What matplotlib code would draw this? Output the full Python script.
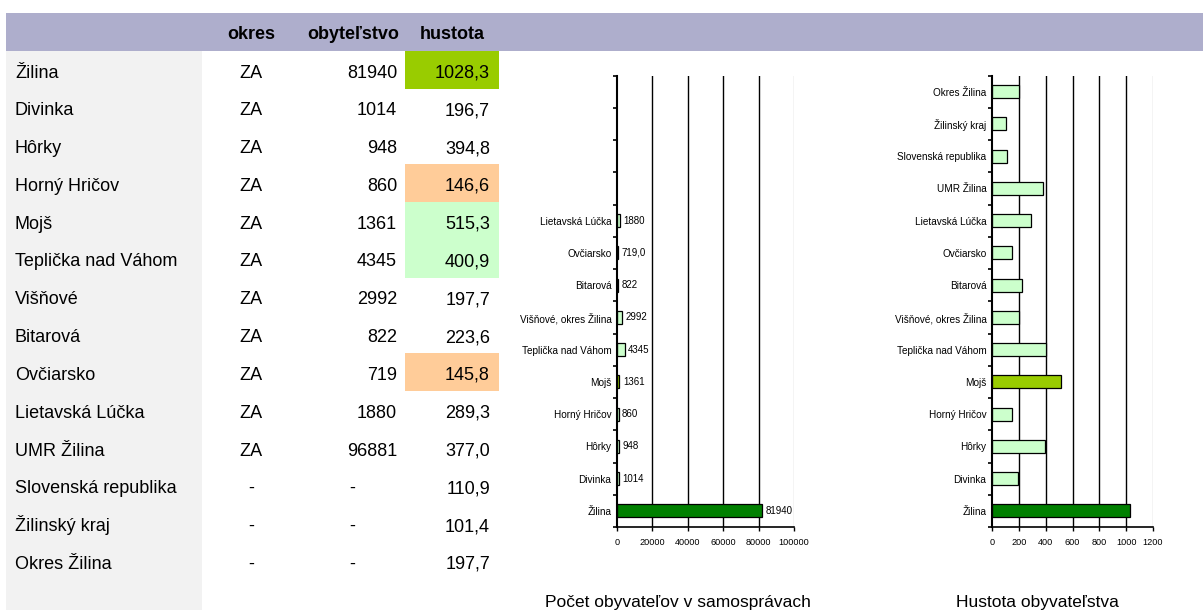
import matplotlib
matplotlib.use("Agg")
import matplotlib.pyplot as plt
from matplotlib.patches import Rectangle
from matplotlib.ticker import FixedLocator

plt.rcParams['font.family'] = ['Liberation Sans', 'DejaVu Sans']

# ---------------- data ----------------
names = ["Žilina", "Divinka", "Hôrky", "Horný Hričov", "Mojš", "Teplička nad Váhom",
         "Višňové", "Bitarová", "Ovčiarsko", "Lietavská Lúčka", "UMR Žilina",
         "Slovenská republika", "Žilinský kraj", "Okres Žilina"]
okres = ["ZA"] * 11 + ["-"] * 3
obyvatelstvo = ["81940", "1014", "948", "860", "1361", "4345", "2992", "822", "719",
                "1880", "96881", "-", "-", "-"]
hustota = [1028.3, 196.7, 394.8, 146.6, 515.3, 400.9, 197.7, 223.6, 145.8, 289.3,
           377.0, 110.9, 101.4, 197.7]
header = ["okres", "obyteľstvo", "hustota"]

# chart 1 (population), bottom to top
pop_cats = ["Žilina", "Divinka", "Hôrky", "Horný Hričov", "Mojš", "Teplička nad Váhom",
            "Višňové, okres Žilina", "Bitarová", "Ovčiarsko", "Lietavská Lúčka",
            "", "", "", ""]
pop_vals = [81940, 1014, 948, 860, 1361, 4345, 2992, 822, 719, 1880]
pop_labels = ["81940", "1014", "948", "860", "1361", "4345", "2992", "822", "719,0", "1880"]

# chart 2 (density), bottom to top
dens_cats = ["Žilina", "Divinka", "Hôrky", "Horný Hričov", "Mojš", "Teplička nad Váhom",
             "Višňové, okres Žilina", "Bitarová", "Ovčiarsko", "Lietavská Lúčka",
             "UMR Žilina", "Slovenská republika", "Žilinský kraj", "Okres Žilina"]
dens_vals = [1028.3, 196.7, 394.8, 146.6, 515.3, 400.9, 197.7, 223.6, 145.8, 289.3,
             377.0, 110.9, 101.4, 197.7]

title1 = "Počet obyvateľov v samosprávach"
title2 = "Hustota obyvateľstva"

# ---------------- styling ----------------
W, H = 1203, 610
DARK = "#008000"
YG = "#99CC00"
LIGHT = "#CCFFCC"
PEACH = "#FFCC99"
HEAD = "#AEAECC"
GRAY = "#F2F2F2"

fig = plt.figure(figsize=(W / 100, H / 100), dpi=100)
fig.patch.set_facecolor("white")


def fx(x):
    return x / W


def fy(y):
    return 1 - y / H


def rect(x0, y0, x1, y1, color):
    fig.add_artist(Rectangle((fx(x0), fy(y1)), fx(x1) - fx(x0), fy(y0) - fy(y1),
                             transform=fig.transFigure, facecolor=color,
                             edgecolor="none", zorder=0))


# backgrounds
rect(6, 13, W, 51, HEAD)
rect(6, 51, 202, H, GRAY)

row0 = 51
rh = 37.8
cell_colors = {0: YG, 3: PEACH, 4: LIGHT, 5: LIGHT, 8: PEACH}
for i, c in cell_colors.items():
    rect(405, row0 + rh * i, 499, row0 + rh * (i + 1), c)

FS = 13
# header
hb = fy(39)
fig.text(fx(251), hb, header[0], ha="center", va="baseline", fontsize=FS, fontweight="bold")
fig.text(fx(353), hb, header[1], ha="center", va="baseline", fontsize=FS, fontweight="bold")
fig.text(fx(452), hb, header[2], ha="center", va="baseline", fontsize=FS, fontweight="bold")

for i in range(len(names)):
    yb = fy(77.5 + rh * i)
    fig.text(fx(15), yb, names[i], ha="left", va="baseline", fontsize=FS)
    fig.text(fx(251), yb, okres[i], ha="center", va="baseline", fontsize=FS)
    if obyvatelstvo[i] == "-":
        fig.text(fx(352), yb, "-", ha="center", va="baseline", fontsize=FS)
    else:
        fig.text(fx(397), yb, obyvatelstvo[i], ha="right", va="baseline", fontsize=FS)
    fig.text(fx(490), yb, f"{hustota[i]:.1f}".replace(".", ","), ha="right",
             va="baseline", fontsize=FS)


def bar_colors(cats):
    cols = []
    for c in cats:
        if c == "Žilina":
            cols.append(DARK)
        elif c == "Mojš":
            cols.append(YG)
        else:
            cols.append(LIGHT)
    return cols


def style_axis(ax, cats, xmax, xticks):
    n = len(cats)
    ax.set_ylim(-0.5, n - 0.5)
    ax.set_xlim(0, xmax)
    ax.set_yticks(range(n))
    ax.set_yticklabels(cats, fontsize=7.2)
    ax.yaxis.set_minor_locator(FixedLocator([k - 0.5 for k in range(n + 1)]))
    ax.tick_params(axis="y", which="major", length=0, pad=4)
    ax.tick_params(axis="y", which="minor", length=3, width=1.2, direction="out")
    ax.set_xticks(xticks)
    ax.set_xticklabels([str(t) for t in xticks], fontsize=6.6)
    ax.tick_params(axis="x", length=3, width=1, direction="out", pad=5)
    for t in xticks[1:-1]:
        ax.axvline(t, color="black", lw=1.0, zorder=0)
    ax.axvline(xticks[-1], color="#C8C8C8", lw=1.0, zorder=0)
    ax.spines["top"].set_visible(False)
    ax.spines["right"].set_visible(False)
    ax.spines["left"].set_linewidth(1.5)
    ax.spines["bottom"].set_linewidth(1.2)
    ax.patch.set_alpha(0)


# chart 1
ax1 = fig.add_axes([fx(617), fy(527), fx(794) - fx(617), fy(75.5) - fy(527)])
ypos1 = list(range(len(pop_vals)))
ax1.barh(ypos1, pop_vals, height=0.4, color=bar_colors(pop_cats[:len(pop_vals)]),
         edgecolor="black", linewidth=0.9, zorder=2)
for yp, v, lab in zip(ypos1, pop_vals, pop_labels):
    ax1.annotate(lab, (v, yp), xytext=(2.5, 0), textcoords="offset points",
                 va="center", ha="left", fontsize=7)
style_axis(ax1, pop_cats, 100000, [0, 20000, 40000, 60000, 80000, 100000])

# chart 2
ax2 = fig.add_axes([fx(992), fy(527), fx(1153) - fx(992), fy(75.5) - fy(527)])
ypos2 = list(range(len(dens_vals)))
ax2.barh(ypos2, dens_vals, height=0.4, color=bar_colors(dens_cats),
         edgecolor="black", linewidth=0.9, zorder=2)
style_axis(ax2, dens_cats, 1200, [0, 200, 400, 600, 800, 1000, 1200])

fig.text(fx(678), fy(607), title1, ha="center", va="baseline", fontsize=12.5)
fig.text(fx(1037), fy(607), title2, ha="center", va="baseline", fontsize=12.5)

fig.savefig("out.png", dpi=100)
